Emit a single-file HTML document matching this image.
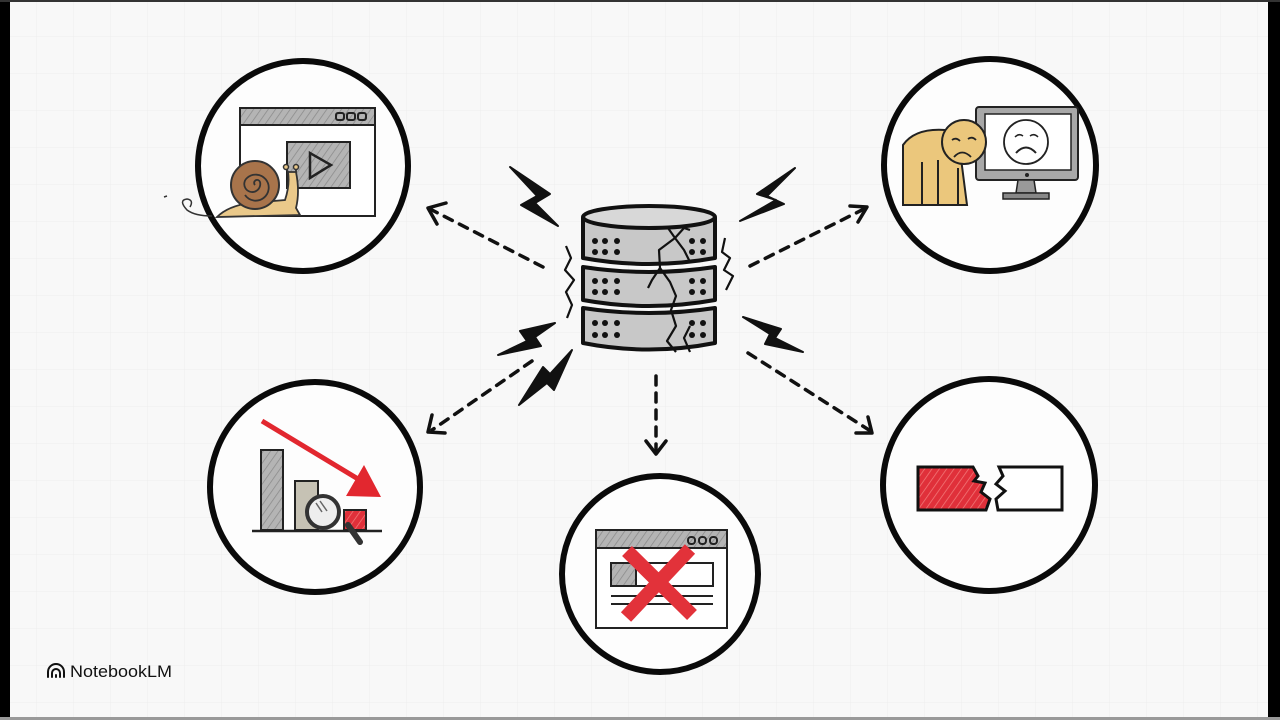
<!DOCTYPE html>
<html><head><meta charset="utf-8"><style>
html,body{margin:0;padding:0;width:1280px;height:720px;overflow:hidden;background:#f8f8f8}
svg{display:block}
</style></head><body>
<svg width="1280" height="720" viewBox="0 0 1280 720" xmlns="http://www.w3.org/2000/svg">
<defs>
<pattern id="grid" width="37" height="37" patternUnits="userSpaceOnUse">
<path d="M37 0V37H0" fill="none" stroke="#eeeeee" stroke-width="1"/>
</pattern>
<pattern id="hatchG" width="6" height="6" patternUnits="userSpaceOnUse" patternTransform="rotate(35)">
<rect width="6" height="6" fill="#b4b4b4"/><line x1="0" y1="0" x2="0" y2="6" stroke="#8a8a8a" stroke-width="1.5"/>
</pattern>
<pattern id="hatchR" width="6" height="6" patternUnits="userSpaceOnUse" patternTransform="rotate(35)">
<rect width="6" height="6" fill="#e0303a"/><line x1="0" y1="0" x2="0" y2="6" stroke="#f27a7a" stroke-width="1.5"/>
</pattern>
</defs>
<rect width="1280" height="720" fill="#f8f8f8"/>
<rect width="1280" height="720" fill="url(#grid)"/>
<!-- frame -->
<rect x="0" y="0" width="10" height="720" fill="#000"/>
<rect x="1268" y="0" width="12" height="720" fill="#000"/>
<rect x="0" y="0" width="1280" height="2" fill="#333"/>
<rect x="0" y="717" width="1280" height="3" fill="#999"/>

<!-- circles -->
<g fill="#fdfdfd" stroke="#0a0a0a" stroke-width="6">
<circle cx="303" cy="166" r="105"/>
<circle cx="990" cy="165" r="106"/>
<circle cx="315" cy="487" r="105"/>
<circle cx="660" cy="574" r="98"/>
<circle cx="989" cy="485" r="106"/>
</g>

<!-- dashed arrows -->
<g stroke="#111" stroke-width="3.5" fill="none" stroke-linecap="round" stroke-linejoin="round">
<path d="M543 267 L432 210" stroke-dasharray="9 8"/>
<path d="M446 203 L428 208 L437 224"/>
<path d="M750 266 L864 209" stroke-dasharray="9 8"/>
<path d="M850 206 L867 207 L858 222"/>
<path d="M532 361 L432 430" stroke-dasharray="9 8"/>
<path d="M432 415 L428 432 L445 433"/>
<path d="M656 376 L656 450" stroke-dasharray="9 8"/>
<path d="M646 441 L656 454 L666 441"/>
<path d="M748 353 L869 430" stroke-dasharray="9 8"/>
<path d="M856 433 L872 433 L868 417"/>
</g>

<!-- lightning bolts -->
<g fill="#111" stroke="#111" stroke-width="2" stroke-linejoin="round">
<path d="M510 167 L550 194 L535 203 L558 226 L521 205 L537 196 Z"/>
<path d="M795 168 L757 194 L776 200 L740 221 L784 204 L767 196 Z"/>
<path d="M743 317 L781 329 L775 338 L803 352 L765 344 L770 334 Z"/>
<path d="M555 323 L520 331 L527 341 L498 355 L541 346 L535 337 Z"/>
<path d="M572 350 L550 374 L543 367 L519 405 L547 383 L554 390 Z"/>
</g>

<!-- database -->
<g stroke="#111" stroke-width="4" stroke-linejoin="round">
<path d="M583 308 L583 343 Q649 356 715 343 L715 308 Q649 318 583 308 Z" fill="#c8c8c8"/>
<path d="M583 267 L583 300 Q649 312 715 300 L715 267 Q649 277 583 267 Z" fill="#c8c8c8"/>
<path d="M583 218 L583 258 Q649 270 715 258 L715 218 Z" fill="#c8c8c8"/>
<ellipse cx="649" cy="217" rx="66" ry="11" fill="#d8d8d8"/>
</g>
<g fill="#111">
<circle cx="595" cy="241" r="3"/><circle cx="605" cy="241" r="3"/><circle cx="617" cy="241" r="3"/>
<circle cx="595" cy="252" r="3"/><circle cx="605" cy="252" r="3"/><circle cx="617" cy="252" r="3"/>
<circle cx="692" cy="241" r="3"/><circle cx="703" cy="241" r="3"/><circle cx="692" cy="252" r="3"/><circle cx="703" cy="252" r="3"/>
<circle cx="595" cy="281" r="3"/><circle cx="605" cy="281" r="3"/><circle cx="617" cy="281" r="3"/>
<circle cx="595" cy="292" r="3"/><circle cx="605" cy="292" r="3"/><circle cx="617" cy="292" r="3"/>
<circle cx="692" cy="281" r="3"/><circle cx="703" cy="281" r="3"/><circle cx="692" cy="292" r="3"/><circle cx="703" cy="292" r="3"/>
<circle cx="595" cy="323" r="3"/><circle cx="605" cy="323" r="3"/><circle cx="617" cy="323" r="3"/>
<circle cx="595" cy="335" r="3"/><circle cx="605" cy="335" r="3"/><circle cx="617" cy="335" r="3"/>
<circle cx="692" cy="323" r="3"/><circle cx="703" cy="323" r="3"/><circle cx="692" cy="335" r="3"/><circle cx="703" cy="335" r="3"/>
</g>
<g stroke="#111" stroke-width="2.2" fill="none" stroke-linejoin="round">
<path d="M668 228 L675 238 L684 228 L690 230"/>
<path d="M675 238 L659 250 L660 268 L652 280 L648 288"/>
<path d="M675 238 L684 250 L690 262"/>
<path d="M660 268 L670 282 L676 296 L671 310 L676 326 L667 341 L676 352"/>
<path d="M690 326 L684 338 L690 352"/>
<path d="M566 246 L571 258 L565 270 L574 280 L566 292 L572 305 L567 318"/>
<path d="M725 238 L722 252 L730 258 L724 270 L733 276 L726 290"/>
</g>

<!-- top-left: slow video + snail -->
<rect x="240" y="108" width="135" height="108" fill="#fff" stroke="#222" stroke-width="2"/>
<rect x="240" y="108" width="135" height="17" fill="url(#hatchG)" stroke="#222" stroke-width="2"/>
<g fill="none" stroke="#222" stroke-width="2"><rect x="336" y="113" width="8" height="7" rx="2"/><rect x="347" y="113" width="8" height="7" rx="2"/><rect x="358" y="113" width="8" height="7" rx="2"/></g>
<rect x="287" y="142" width="63" height="46" fill="url(#hatchG)" stroke="#222" stroke-width="2"/>
<path d="M310 153 L310 178 L331 165 Z" fill="none" stroke="#222" stroke-width="2.5"/>
<path d="M217 217 Q228 206 250 203 L285 200 Q290 185 288 172 L296 172 Q300 192 296 208 L300 215 L217 217 Z" fill="#eac98a" stroke="#333" stroke-width="1.8"/>
<line x1="288" y1="172" x2="286" y2="168" stroke="#333" stroke-width="1.8"/><line x1="296" y1="172" x2="296" y2="168" stroke="#333" stroke-width="1.8"/>
<circle cx="286" cy="167" r="2.5" fill="#eac98a" stroke="#333" stroke-width="1.5"/><circle cx="296" cy="167" r="2.5" fill="#eac98a" stroke="#333" stroke-width="1.5"/>
<circle cx="255" cy="185" r="24" fill="#a8744b" stroke="#333" stroke-width="2"/>
<path d="M255 185 m0 0 a3 3 0 1 1 5 -3 a8 8 0 1 1 -13 -4 a13 13 0 1 1 -2 17" fill="none" stroke="#333" stroke-width="1.8"/>
<path d="M212 216 Q195 216 187 210 Q178 200 187 199 Q194 200 190 207" fill="none" stroke="#333" stroke-width="1.5"/>
<line x1="164" y1="197" x2="167" y2="196" stroke="#333" stroke-width="1.5"/>

<!-- top-right: sad person + monitor -->
<rect x="976" y="107" width="102" height="73" rx="3" fill="#a8a8a8" stroke="#222" stroke-width="2"/>
<rect x="985" y="114" width="86" height="56" fill="#fff" stroke="#222" stroke-width="1.5"/>
<circle cx="1026" cy="142" r="22" fill="#fff" stroke="#222" stroke-width="1.8"/>
<path d="M1015 137 Q1019 133 1023 136 M1030 136 Q1034 133 1038 137" fill="none" stroke="#222" stroke-width="1.5"/>
<path d="M1016 153 Q1026 142 1036 153" fill="none" stroke="#222" stroke-width="2"/>
<circle cx="1027" cy="175" r="2" fill="#222"/>
<path d="M1018 180 L1016 193 L1036 193 L1034 180 Z" fill="#999" stroke="#222" stroke-width="1.5"/>
<rect x="1003" y="193" width="46" height="6" fill="#888" stroke="#222" stroke-width="1.5"/>
<path d="M903 205 L903 145 Q915 128 945 130 L958 135 L967 205 Z" fill="#ebc77c" stroke="#222" stroke-width="2"/>
<g stroke="#222" stroke-width="2"><line x1="922" y1="162" x2="922" y2="205"/><line x1="938" y1="160" x2="938" y2="205"/><line x1="958" y1="168" x2="958" y2="205"/></g>
<circle cx="964" cy="142" r="22" fill="#ebc77c" stroke="#222" stroke-width="2"/>
<path d="M952 140 Q956 137 960 141 M968 139 Q972 136 976 140 M954 157 Q962 148 971 157" fill="none" stroke="#222" stroke-width="1.8"/>

<!-- mid-left: declining chart -->
<rect x="261" y="450" width="22" height="80" fill="url(#hatchG)" stroke="#222" stroke-width="2"/>
<rect x="295" y="481" width="23" height="49" fill="#c6c2b4" stroke="#222" stroke-width="2"/>
<rect x="344" y="510" width="22" height="20" fill="url(#hatchR)" stroke="#222" stroke-width="2"/>
<line x1="252" y1="531" x2="382" y2="531" stroke="#222" stroke-width="2.5"/>
<line x1="348" y1="525" x2="360" y2="542" stroke="#333" stroke-width="6" stroke-linecap="round"/>
<circle cx="323" cy="512" r="16" fill="#eee" stroke="#333" stroke-width="4"/>
<path d="M316 503 L322 512 M320 501 L327 511" stroke="#666" stroke-width="1.5"/>
<path d="M262 421 L368 485" stroke="#e2272f" stroke-width="5"/>
<path d="M364 465 L381 497 L346 496 Z" fill="#e2272f"/>

<!-- bottom center: broken page with X -->
<rect x="596" y="530" width="131" height="98" fill="#fff" stroke="#222" stroke-width="2"/>
<rect x="596" y="530" width="131" height="18" fill="url(#hatchG)" stroke="#222" stroke-width="2"/>
<g fill="none" stroke="#222" stroke-width="2"><rect x="688" y="537" width="7" height="7" rx="3"/><rect x="699" y="537" width="7" height="7" rx="3"/><rect x="710" y="537" width="7" height="7" rx="3"/></g>
<rect x="611" y="563" width="102" height="23" fill="#fff" stroke="#222" stroke-width="2"/>
<rect x="611" y="563" width="25" height="23" fill="url(#hatchG)" stroke="#222" stroke-width="2"/>
<line x1="611" y1="596" x2="713" y2="596" stroke="#222" stroke-width="2"/>
<line x1="611" y1="604" x2="713" y2="604" stroke="#222" stroke-width="2"/>
<path d="M627 551 L692 615 M690 549 L626 617" stroke="#e2323a" stroke-width="14" stroke-linecap="butt"/>

<!-- mid-right: broken block -->
<path d="M918 467 L973 467 L978 476 L974 481 L985 483 L981 492 L990 499 L986 510 L918 510 Z" fill="url(#hatchR)" stroke="#111" stroke-width="3" stroke-linejoin="miter"/>
<path d="M999 467 L1062 467 L1062 510 L998 510 L996 499 L1005 491 L996 484 L1003 476 Z" fill="#fff" stroke="#111" stroke-width="3" stroke-linejoin="miter"/>

<!-- logo -->
<g fill="none" stroke="#111" stroke-width="2" stroke-linecap="round">
<path d="M48 677 L48 672 A8 8 0 0 1 64 672 L64 677"/>
<path d="M52 677 L52 673 A4 4 0 0 1 60 673 L60 677"/>
<path d="M56 677 L56 675"/>
</g>
<text x="70" y="677" font-family="Liberation Sans, sans-serif" font-size="17" fill="#111" font-weight="500" textLength="102" lengthAdjust="spacingAndGlyphs">NotebookLM</text>
</svg>
</body></html>
